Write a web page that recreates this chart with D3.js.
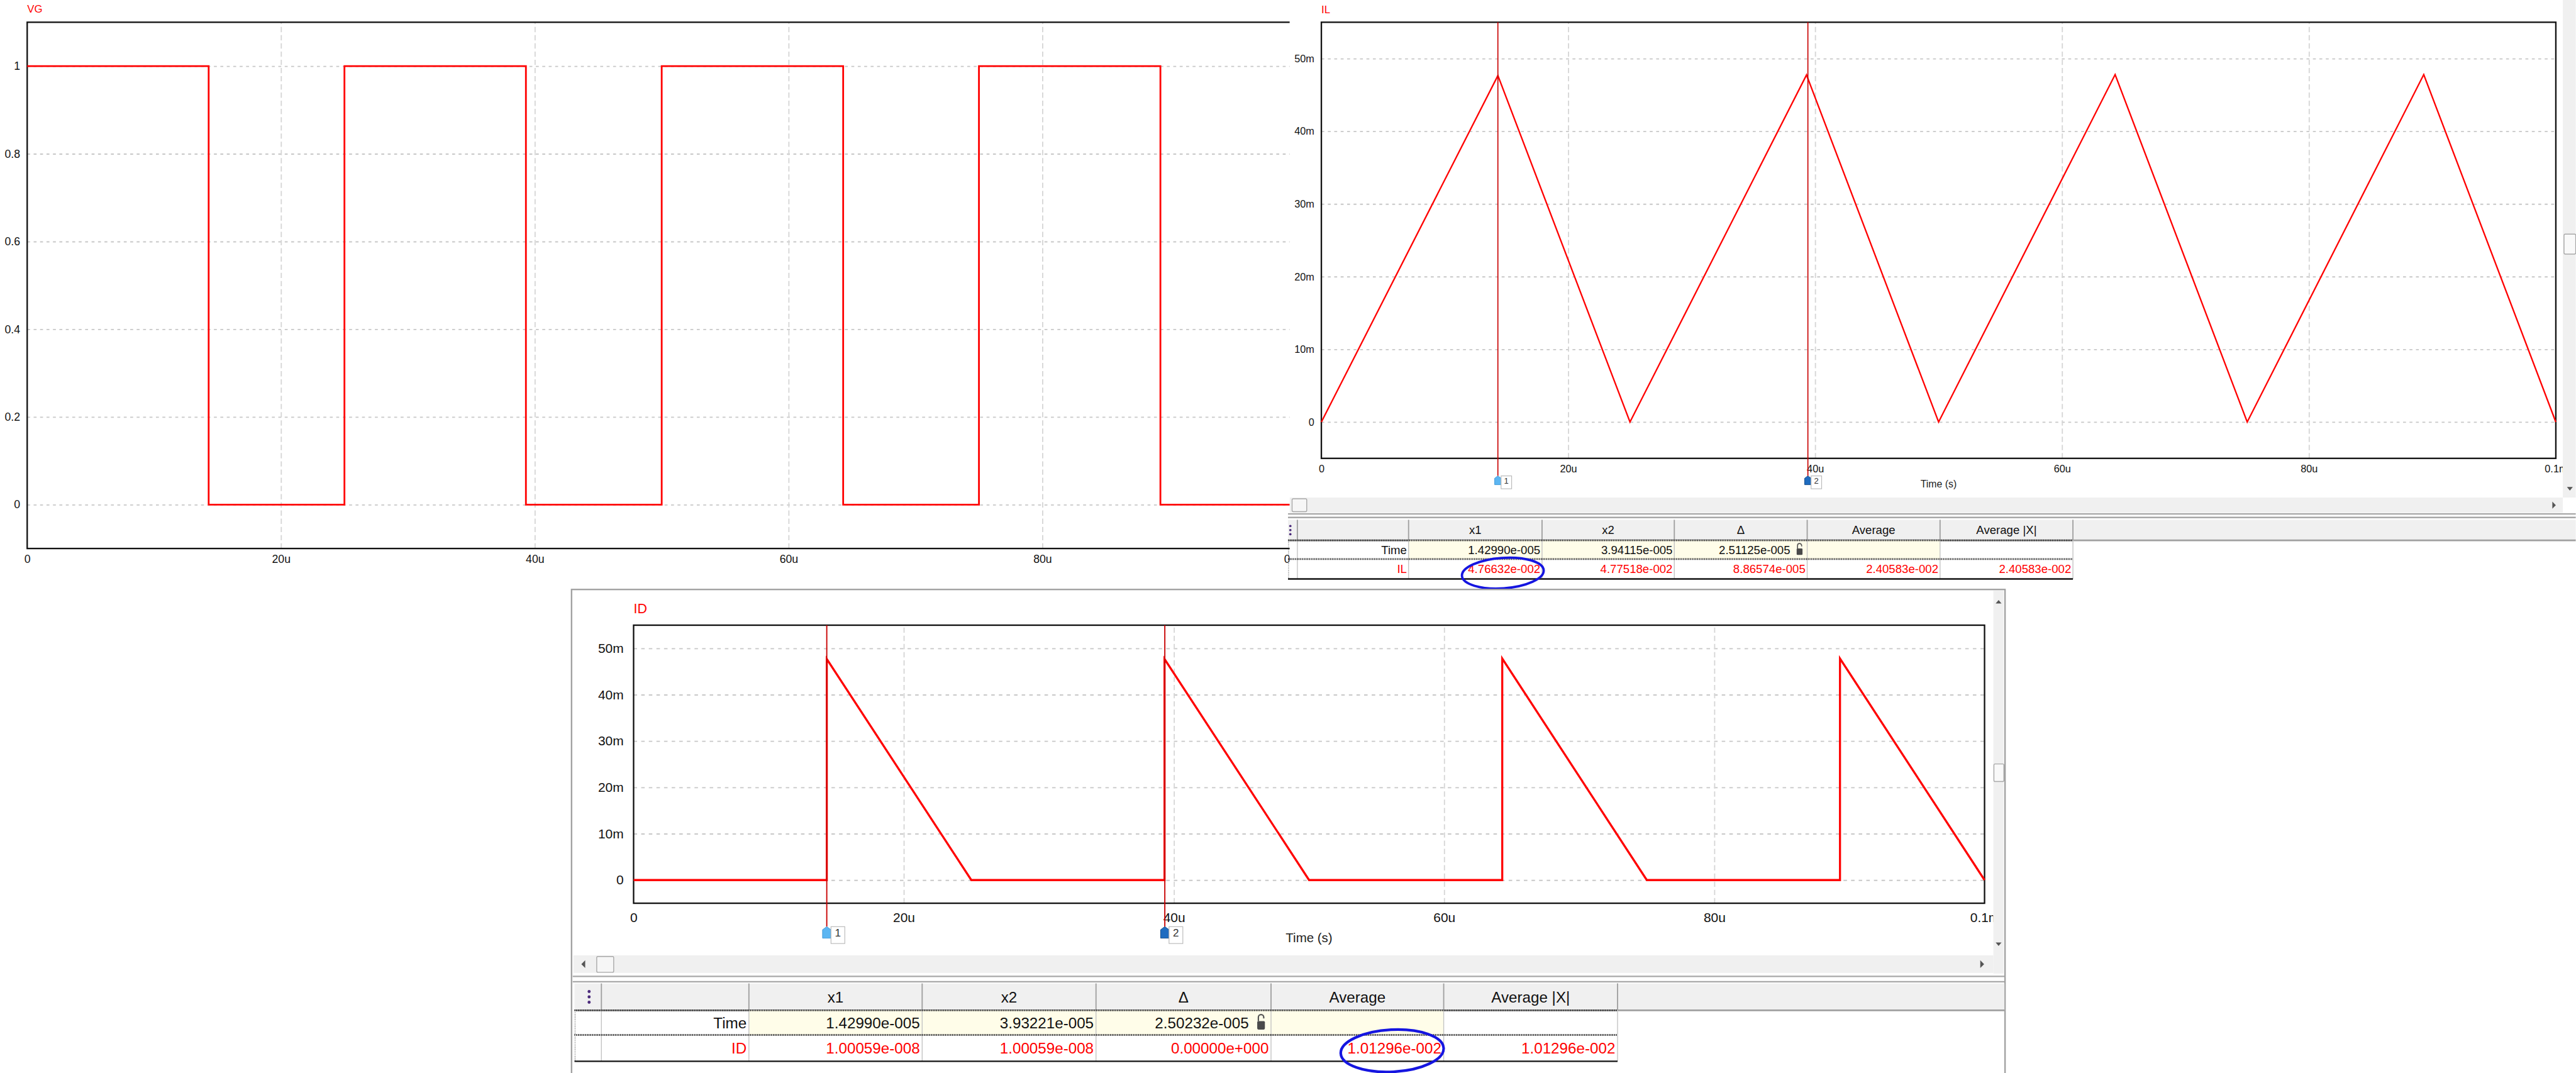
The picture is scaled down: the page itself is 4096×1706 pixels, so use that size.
<!DOCTYPE html>
<html><head><meta charset="utf-8">
<script src="https://cdn.jsdelivr.net/npm/d3@7"></script>
<style>
html,body{margin:0;padding:0;background:#fff;overflow:hidden}
svg{display:block}
</style></head><body>
<svg id="c" width="4096" height="1706" viewBox="0 0 4400 1833"></svg>
<script>
// ---------------- data ----------------
const timeTicks = [0, 20, 40, 60, 80, 100];                 // microseconds
const timeTickLabels = ["0", "20u", "40u", "60u", "80u", "0.1m"];
const vgTicks = [0, 0.2, 0.4, 0.6, 0.8, 1];
const vgTickLabels = ["0", "0.2", "0.4", "0.6", "0.8", "1"];
const currentTicks = [0, 10, 20, 30, 40, 50];               // mA
const currentTickLabels = ["0", "10m", "20m", "30m", "40m", "50m"];

// VG gate voltage (V) vs time (us)
const vgTime  = [0, 14.3, 14.3, 25, 25, 39.3, 39.3, 50, 50, 64.3, 64.3, 75, 75, 89.3, 89.3, 100];
const vgValue = [1, 1,    0,    0,  1,  1,    0,    0,  1,  1,    0,    0,  1,  1,    0,    0];

// IL inductor current (mA)
const ilTime  = [0, 14.3, 25, 39.3, 50, 64.3, 75, 89.3, 100];
const ilValue = [0, 47.66, 0, 47.75, 0, 47.8, 0, 47.8, 0];

// ID diode current (mA)
const idTime  = [0, 14.3, 14.3, 25, 39.3, 39.3, 50, 64.3, 64.3, 75, 89.3, 89.3, 100];
const idValue = [0, 0,    47.7, 0,  0,    47.7, 0,  0,    47.8, 0,  0,    47.8, 0];

// cursors (us)
const ilCursors = [14.299, 39.4115];
const idCursors = [14.299, 39.3221];

// measurement tables
const tableHeaders = ["x1", "x2", "\u0394", "Average", "Average |X|"];
const ilTimeRow = ["1.42990e-005", "3.94115e-005", "2.51125e-005", "", ""];
const ilDataRow = ["4.76632e-002", "4.77518e-002", "8.86574e-005", "2.40583e-002", "2.40583e-002"];
const idTimeRow = ["1.42990e-005", "3.93221e-005", "2.50232e-005", "", ""];
const idDataRow = ["1.00059e-008", "1.00059e-008", "0.00000e+000", "1.01296e-002", "1.01296e-002"];

// ---------------- drawing ----------------
const FONT = '"Liberation Sans", Arial, sans-serif';
const RED = "#ff0000";
const svg = d3.select("#c");
const defs = svg.append("defs");

function clip(id, x, y, w, h) {
  defs.append("clipPath").attr("id", id).append("rect")
    .attr("x", x).attr("y", y).attr("width", w).attr("height", h);
}
clip("clipVG", 0, 0, 2203, 1000);
clip("clipIL", 2203, 0, 2175, 850);
clip("clipID", 979, 1009, 2426, 623);

function marker(g, cx, top, s, fill, stroke, label) {
  const w = 5.5 * s, h = 15 * s;
  g.append("path")
    .attr("d", `M${cx - w},${top + h} L${cx - w},${top + 4 * s} L${cx},${top} L${cx + w},${top + 4 * s} L${cx + w},${top + h} Z`)
    .attr("fill", fill).attr("stroke", stroke).attr("stroke-width", 1);
  g.append("rect").attr("x", cx + w).attr("y", top).attr("width", 18 * s).attr("height", 22 * s)
    .attr("fill", "#fff").attr("stroke", "#b8b8b8").attr("stroke-width", 1.2);
  g.append("text").attr("x", cx + w + 9 * s).attr("y", top + 13 * s)
    .attr("text-anchor", "middle").attr("font-family", FONT).attr("font-size", 14 * s)
    .attr("fill", "#333").text(label);
}

function drawPanel(o) {
  const g = svg.append("g").attr("clip-path", `url(#${o.clipId})`);
  const x = d3.scaleLinear().domain([0, 100]).range([o.left, o.right]);
  const y = d3.scaleLinear().domain(o.yDomain).range([o.bottom, o.top]);
  const W = o.right - o.left, H = o.bottom - o.top;

  g.append("g").attr("transform", `translate(${o.left},0)`)
    .call(d3.axisLeft(y).tickValues(o.yTicks).tickSize(-W).tickFormat(""))
    .call(a => { a.select(".domain").remove();
      a.selectAll("line").attr("stroke", "#c8c8c8").attr("stroke-width", o.gridW).attr("stroke-dasharray", o.hDash); });
  g.append("g").attr("transform", `translate(0,${o.bottom})`)
    .call(d3.axisBottom(x).tickValues(timeTicks.slice(1, -1)).tickSize(-H).tickFormat(""))
    .call(a => { a.select(".domain").remove();
      a.selectAll("line").attr("stroke", "#d6d6d6").attr("stroke-width", o.gridW).attr("stroke-dasharray", o.vDash); });

  g.append("rect").attr("x", o.left).attr("y", o.top).attr("width", W).attr("height", H)
    .attr("fill", "none").attr("stroke", "#111").attr("stroke-width", o.frameW);

  g.append("g").attr("transform", `translate(${o.left},0)`)
    .call(d3.axisLeft(y).tickValues(o.yTicks).tickFormat((d, i) => o.yLabels[i]).tickSize(0).tickPadding(o.yPad))
    .call(a => { a.select(".domain").remove(); a.attr("font-size", o.tickFont).attr("font-family", FONT);
      a.selectAll("text").attr("fill", "#111"); });
  g.append("g").attr("transform", `translate(0,${o.bottom})`)
    .call(d3.axisBottom(x).tickValues(timeTicks).tickFormat((d, i) => timeTickLabels[i]).tickSize(0).tickPadding(o.xPad))
    .call(a => { a.select(".domain").remove(); a.attr("font-size", o.tickFont).attr("font-family", FONT);
      a.selectAll("text").attr("fill", "#111"); });

  g.append("text").attr("x", o.left).attr("y", o.titleY).attr("fill", RED)
    .attr("font-family", FONT).attr("font-size", o.titleFont).text(o.title);

  if (o.axisTitle) {
    g.append("text").attr("x", x(50)).attr("y", o.axisTitleY).attr("text-anchor", "middle")
      .attr("font-family", FONT).attr("font-size", o.axisTitleFont).attr("fill", "#222").text(o.axisTitle);
  }

  g.append("path").datum(o.time.map((t, i) => [t, o.value[i]]))
    .attr("d", d3.line().x(d => x(d[0])).y(d => y(d[1])))
    .attr("fill", "none").attr("stroke", RED).attr("stroke-width", o.lineW).attr("stroke-linejoin", "miter");

  (o.cursors || []).forEach((c, i) => {
    const cx = x(c);
    g.append("line").attr("x1", cx).attr("x2", cx).attr("y1", o.top).attr("y2", o.markerTop)
      .attr("stroke", "#c80000").attr("stroke-width", o.cursorW);
    marker(g, cx, o.markerTop, o.markerScale, i === 0 ? "#5cb6f2" : "#1f6cc0", i === 0 ? "#3d97d6" : "#0f4785", String(i + 1));
  });
  return g;
}

function tri(g, cx, cy, dir, s) {
  let d;
  if (dir === "down") d = `M${cx - 5 * s},${cy - 3 * s} L${cx + 5 * s},${cy - 3 * s} L${cx},${cy + 3 * s} Z`;
  if (dir === "up") d = `M${cx - 5 * s},${cy + 3 * s} L${cx + 5 * s},${cy + 3 * s} L${cx},${cy - 3 * s} Z`;
  if (dir === "right") d = `M${cx - 3 * s},${cy - 6 * s} L${cx - 3 * s},${cy + 6 * s} L${cx + 3 * s},${cy} Z`;
  if (dir === "left") d = `M${cx + 3 * s},${cy - 6 * s} L${cx + 3 * s},${cy + 6 * s} L${cx - 3 * s},${cy} Z`;
  g.append("path").attr("d", d).attr("fill", "#555");
}

function lock(g, cx, top, s) {
  g.append("path")
    .attr("d", `M${cx - 3.5 * s},${top + 9 * s} L${cx - 3.5 * s},${top + 4 * s} A${3.5 * s},${3.5 * s} 0 0 1 ${cx + 3.5 * s},${top + 4 * s} L${cx + 3.5 * s},${top + 5.5 * s}`)
    .attr("fill", "none").attr("stroke", "#555").attr("stroke-width", 1.8 * s);
  g.append("rect").attr("x", cx - 5 * s).attr("y", top + 9 * s).attr("width", 10 * s).attr("height", 11 * s)
    .attr("rx", 1.5 * s).attr("fill", "#4a4a4a");
}

function drawTable(o) {
  const g = svg.append("g").attr("font-family", FONT).attr("font-size", o.font);
  const e = o.edges, r = o.rows, s = o.s;
  const last = e[e.length - 1];
  o.sepY.forEach(yy => g.append("line").attr("x1", o.sepX0).attr("x2", o.bandRight)
    .attr("y1", yy).attr("y2", yy).attr("stroke", "#a8a8a8").attr("stroke-width", 2.5));
  g.append("rect").attr("x", o.x0).attr("y", r[0]).attr("width", o.bandRight - o.x0).attr("height", r[1] - r[0])
    .attr("fill", "#f0f0f0");
  g.append("line").attr("x1", o.x0).attr("x2", o.bandRight).attr("y1", r[1]).attr("y2", r[1])
    .attr("stroke", "#a0a0a0").attr("stroke-width", 3);
  for (let i = 0; i < 4; i++) {
    g.append("rect").attr("x", e[i + 1]).attr("y", r[1]).attr("width", e[i + 2] - e[i + 1]).attr("height", r[2] - r[1])
      .attr("fill", "#fffde9");
  }
  e.forEach(xx => {
    g.append("line").attr("x1", xx).attr("x2", xx).attr("y1", r[0]).attr("y2", r[1])
      .attr("stroke", "#a0a0a0").attr("stroke-width", 2);
    g.append("line").attr("x1", xx).attr("x2", xx).attr("y1", r[1]).attr("y2", r[3])
      .attr("stroke", "#c4c4c4").attr("stroke-width", 1.5);
  });
  [r[1], r[2]].forEach(yy => g.append("line").attr("x1", o.x0).attr("x2", last).attr("y1", yy).attr("y2", yy)
    .attr("stroke", "#222").attr("stroke-width", 3).attr("stroke-dasharray", "1.5,1.5"));
  g.append("line").attr("x1", o.x0).attr("x2", last).attr("y1", r[3]).attr("y2", r[3])
    .attr("stroke", "#111").attr("stroke-width", 2.5);
  g.append("line").attr("x1", o.x0 + 1).attr("x2", o.x0 + 1).attr("y1", r[1]).attr("y2", r[3])
    .attr("stroke", "#777").attr("stroke-width", 1.2).attr("stroke-dasharray", "1.5,1.5");
  // handle dots
  [-1, 0, 1].forEach(k => g.append("circle").attr("cx", o.handleX).attr("cy", (r[0] + r[1]) / 2 + k * 7 * s)
    .attr("r", 2 * s).attr("fill", "#4b2a7b"));
  const base = i => (r[i] + r[i + 1]) / 2 + o.font * 0.36;
  tableHeaders.forEach((h, i) => g.append("text").attr("x", (e[i + 1] + e[i + 2]) / 2).attr("y", base(0))
    .attr("text-anchor", "middle").attr("fill", "#111").text(h));
  const pad = 3 * s;
  g.append("text").attr("x", e[1] - pad).attr("y", base(1)).attr("text-anchor", "end").attr("fill", "#111").text("Time");
  g.append("text").attr("x", e[1] - pad).attr("y", base(2)).attr("text-anchor", "end").attr("fill", RED).text(o.dataLabel);
  o.timeRow.forEach((v, i) => {
    if (!v) return;
    const xr = i === 2 ? e[i + 2] - 29 * s : e[i + 2] - pad;
    g.append("text").attr("x", xr).attr("y", base(1)).attr("text-anchor", "end").attr("fill", "#111").text(v);
  });
  o.dataRow.forEach((v, i) => g.append("text").attr("x", e[i + 2] - pad).attr("y", base(2))
    .attr("text-anchor", "end").attr("fill", RED).text(v));
  lock(g, e[4] - 13 * s, r[1] + 5 * s, s);
  return g;
}

// ---------- VG panel ----------
drawPanel({
  clipId: "clipVG", left: 46, right: 2214, top: 38, bottom: 937, yDomain: [-0.1, 1.1],
  yTicks: vgTicks, yLabels: vgTickLabels, tickFont: 19, yPad: 12, xPad: 11,
  title: "VG", titleY: 22, titleFont: 18, time: vgTime, value: vgValue, lineW: 3,
  gridW: 2, hDash: "5,6", vDash: "9,5", frameW: 2.5
});

// ---------- IL window ----------
svg.append("rect").attr("x", 2203).attr("y", 0).attr("width", 2197).attr("height", 1000).attr("fill", "#fff");
drawPanel({
  clipId: "clipIL", left: 2257, right: 4366, top: 38, bottom: 783, yDomain: [-5, 55],
  yTicks: currentTicks, yLabels: currentTickLabels, tickFont: 17.5, yPad: 12, xPad: 12,
  title: "IL", titleY: 23, titleFont: 18, axisTitle: "Time (s)", axisTitleY: 833, axisTitleFont: 17,
  time: ilTime, value: ilValue, lineW: 2.5, gridW: 2, hDash: "5,6", vDash: "9,5", frameW: 2.5,
  cursors: ilCursors, markerTop: 813, markerScale: 1, cursorW: 1.8
});
{
  const g = svg.append("g");
  g.append("rect").attr("x", 4378).attr("y", 0).attr("width", 22).attr("height", 850).attr("fill", "#f0f0f0");
  g.append("rect").attr("x", 4380).attr("y", 400).attr("width", 20).attr("height", 34).attr("rx", 2)
    .attr("fill", "#f9f9f9").attr("stroke", "#a8a8a8").attr("stroke-width", 1.5);
  tri(g, 4390, 835, "down", 1);
  g.append("rect").attr("x", 2203).attr("y", 850).attr("width", 2175).attr("height", 26).attr("fill", "#f0f0f0");
  g.append("rect").attr("x", 2207).attr("y", 852).attr("width", 25).attr("height", 22).attr("rx", 2)
    .attr("fill", "#f6f6f6").attr("stroke", "#a8a8a8").attr("stroke-width", 1.5);
  tri(g, 4363, 863, "right", 1);
}
drawTable({
  x0: 2200, handleX: 2204, edges: [2216, 2406, 2634, 2860, 3087, 3314, 3541],
  rows: [888, 923, 955, 989], bandRight: 4400, sepY: [878, 884], sepX0: 2200, font: 20, s: 1,
  timeRow: ilTimeRow, dataRow: ilDataRow, dataLabel: "IL"
});
svg.append("ellipse").attr("cx", 2567).attr("cy", 979).attr("rx", 70).attr("ry", 26)
  .attr("transform", "rotate(-4 2567 979)")
  .attr("fill", "none").attr("stroke", "#1515e0").attr("stroke-width", 4);

// ---------- ID window ----------
svg.append("rect").attr("x", 976).attr("y", 1007).attr("width", 2449).attr("height", 830)
  .attr("fill", "#fff").attr("stroke", "#a0a0a0").attr("stroke-width", 2.5);
drawPanel({
  clipId: "clipID", left: 1082, right: 3390, top: 1068, bottom: 1543, yDomain: [-5, 55],
  yTicks: currentTicks, yLabels: currentTickLabels, tickFont: 22.5, yPad: 17, xPad: 16,
  title: "ID", titleY: 1048, titleFont: 23, axisTitle: "Time (s)", axisTitleY: 1609, axisTitleFont: 22,
  time: idTime, value: idValue, lineW: 3.5, gridW: 2, hDash: "6,7", vDash: "9,5", frameW: 2.5,
  cursors: idCursors, markerTop: 1583, markerScale: 1.31, cursorW: 2
});
{
  const g = svg.append("g");
  g.append("rect").attr("x", 3405).attr("y", 1009).attr("width", 18).attr("height", 654).attr("fill", "#f0f0f0");
  g.append("rect").attr("x", 3406).attr("y", 1305).attr("width", 17).attr("height", 30).attr("rx", 2)
    .attr("fill", "#f9f9f9").attr("stroke", "#a8a8a8").attr("stroke-width", 1.5);
  tri(g, 3414, 1028, "up", 1);
  tri(g, 3414, 1613, "down", 1);
  g.append("rect").attr("x", 979).attr("y", 1632).attr("width", 2426).attr("height", 30).attr("fill", "#f0f0f0");
  g.append("rect").attr("x", 1019).attr("y", 1634).attr("width", 29).attr("height", 27).attr("rx", 2)
    .attr("fill", "#f6f6f6").attr("stroke", "#a8a8a8").attr("stroke-width", 1.5);
  tri(g, 996, 1647, "left", 1.1);
  tri(g, 3386, 1647, "right", 1.1);
}
drawTable({
  x0: 981, handleX: 1006, edges: [1027, 1279, 1575, 1872, 2171, 2466, 2763],
  rows: [1680, 1726, 1768, 1813], bandRight: 3424, sepY: [1668, 1677], sepX0: 978, font: 26, s: 1.31,
  timeRow: idTimeRow, dataRow: idDataRow, dataLabel: "ID"
});
svg.append("ellipse").attr("cx", 2378).attr("cy", 1795).attr("rx", 88).attr("ry", 36)
  .attr("transform", "rotate(-3 2378 1795)")
  .attr("fill", "none").attr("stroke", "#1515e0").attr("stroke-width", 4.5);
</script>
</body></html>
